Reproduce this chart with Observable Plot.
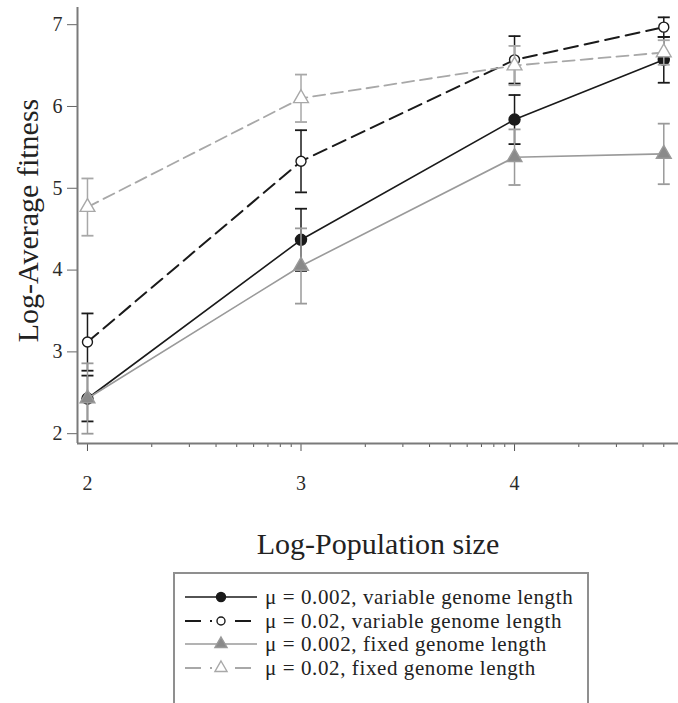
<!DOCTYPE html>
<html><head><meta charset="utf-8">
<script src="https://cdn.jsdelivr.net/npm/d3@7"></script>
<script src="https://cdn.jsdelivr.net/npm/@observablehq/plot@0.6"></script>
<style>
html,body{margin:0;padding:0;background:#fff;}
#wrap{position:relative;width:678px;height:703px;overflow:hidden;font-family:"Liberation Serif",serif;}
#chart{position:absolute;left:0;top:0;}
#chart svg text{font-family:"Liberation Serif",serif;}
#chart svg [aria-label$="tick label"]{font-size:20px;}
#chart svg [aria-label$="tick label"] text{font-size:20px;}
#legend{position:absolute;left:173px;top:572px;width:416px;height:150px;border:2px solid #8f8f8f;box-sizing:border-box;}
.row{position:absolute;left:10px;height:24px;display:flex;align-items:center;}
.row span{font-size:21px;letter-spacing:0.6px;color:#222;margin-left:8px;white-space:nowrap;font-family:"Liberation Serif",serif;}
</style></head><body>
<div id="wrap"><div id="chart"></div><div id="legend"></div></div>
<script>
// ---- data ----
const popSize = [100, 1000, 10000, 50000];          // population size (log axis)
const xTicks = [100, 1000, 10000];                  // labelled 2,3,4
const xMinorTicks = [200,300,400,500,600,700,800,900,2000,3000,4000,5000,6000,7000,8000,9000,20000,30000,40000,50000];
const yTicks = [2, 3, 4, 5, 6, 7];
const seriesLabels = [
  "\u03bc = 0.002, variable genome length",
  "\u03bc = 0.02, variable genome length",
  "\u03bc = 0.002, fixed genome length",
  "\u03bc = 0.02, fixed genome length"
];
const meanVar002 = [2.43, 4.37, 5.84, 6.57];
const errVar002  = [0.28, 0.38, 0.30, 0.28];
const meanVar02  = [3.12, 5.33, 6.57, 6.97];
const errVar02   = [0.35, 0.38, 0.29, 0.12];
const meanFix002 = [2.43, 4.05, 5.38, 5.42];
const errFix002  = [0.43, 0.46, 0.34, 0.37];
const meanFix02  = [4.77, 6.10, 6.50, 6.66];
const errFix02   = [0.35, 0.29, 0.24, 0.15];

// ---- styles ----
const styles = [
  {mean: meanVar002, err: errVar002, color: "#1a1a1a", dash: null,   width: 1.6, symbol: "circle",   fill: "#1a1a1a", r: 5.5},
  {mean: meanVar02,  err: errVar02,  color: "#1a1a1a", dash: "14,7", width: 2,   symbol: "circle",   fill: "#fff",    r: 5},
  {mean: meanFix002, err: errFix002, color: "#9a9a9a", dash: null,   width: 1.6, symbol: "triangle", fill: "#8a8a8a", r: 5.5},
  {mean: meanFix02,  err: errFix02,  color: "#a8a8a8", dash: "12,6", width: 1.8, symbol: "triangle", fill: "#fff",    r: 5.5}
];

const xDomain = [89.8, 58600];
const yDomain = [1.88, 7.21];

const cap = {draw(ctx, size) { const r = Math.sqrt(size / Math.PI); ctx.moveTo(-r, 0); ctx.lineTo(r, 0); }};

const marks = [];
styles.forEach((s, i) => {
  const rows = popSize.map((p, j) => ({x: p, y: s.mean[j], lo: s.mean[j] - s.err[j], hi: s.mean[j] + s.err[j]}));
  marks.push(
    Plot.ruleX(rows, {x: "x", y1: "lo", y2: "hi", stroke: s.color, strokeWidth: 1.5}),
    Plot.dot(rows, {x: "x", y: "hi", symbol: cap, r: 6, stroke: s.color, strokeWidth: 1.8}),
    Plot.dot(rows, {x: "x", y: "lo", symbol: cap, r: 6, stroke: s.color, strokeWidth: 1.8}),
    Plot.line(rows, {x: "x", y: "y", stroke: s.color, strokeWidth: s.width, strokeDasharray: s.dash}),
    Plot.dot(rows, {x: "x", y: "y", symbol: s.symbol, r: s.r, fill: s.fill, stroke: s.color, strokeWidth: 1.4})
  );
});

const chart = Plot.plot({
  width: 678,
  height: 570,
  marginLeft: 77,
  marginRight: 0,
  marginTop: 7,
  marginBottom: 127,
  style: {fontFamily: "'Liberation Serif', serif", background: "#fff", color: "#2a2a2a"},
  x: {type: "log", domain: xDomain},
  y: {domain: yDomain},
  marks: [
    Plot.axisY(yTicks, {tickSize: 10, tickPadding: 5, fontSize: 20, label: null, stroke: "#666", tickFormat: d => String(d)}),
    Plot.axisX(xTicks, {tickSize: 8, tickPadding: 24, fontSize: 20, label: null, stroke: "#555", tickFormat: d => String(Math.round(Math.log10(d)))}),
    Plot.axisX(xMinorTicks, {tickSize: 4, label: null, stroke: "#555", tickFormat: () => ""}),
    Plot.ruleY([yDomain[0]], {stroke: "#7a7a7a", strokeWidth: 2}),
    Plot.ruleX([xDomain[0]], {stroke: "#7a7a7a", strokeWidth: 2}),
    Plot.text(["Log-Population size"], {frameAnchor: "bottom", dy: 110, fontSize: 30, fill: "#222"}),
    Plot.text(["Log-Average fitness"], {frameAnchor: "left", textAnchor: "middle", rotate: -90, dx: -49, dy: -5, fontSize: 30, fill: "#222"}),
    ...marks
  ]
});
document.getElementById("chart").appendChild(chart);

// ---- legend ----
const legend = d3.select("#legend");
const rowTops = [11, 35, 58, 82];
styles.forEach((s, i) => {
  const row = legend.append("div").attr("class", "row").style("top", rowTops[i] + "px");
  const svg = row.append("svg").attr("width", 72).attr("height", 24);
  svg.append("line").attr("x1", 0).attr("x2", 72).attr("y1", 12).attr("y2", 12)
    .attr("stroke", s.color).attr("stroke-width", s.width).attr("stroke-dasharray", s.dash ? "16,9" : null);
  const sym = d3.symbol(s.symbol === "circle" ? d3.symbolCircle : d3.symbolTriangle, Math.PI * (s.r - 1) * (s.r - 1));
  if (s.fill === "#fff") svg.append("rect").attr("x", 27).attr("y", 4).attr("width", 18).attr("height", 16).attr("fill", "#fff");
  svg.append("path").attr("d", sym()).attr("transform", "translate(36,12)")
    .attr("fill", s.fill).attr("stroke", s.color).attr("stroke-width", 1.4);
  row.append("span").text(seriesLabels[i]);
});
</script>
</body></html>
